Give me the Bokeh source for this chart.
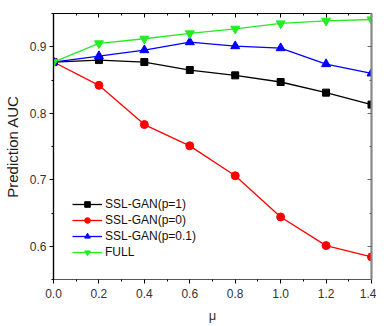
from bokeh.plotting import figure
from bokeh.models import LinearAxis, Range1d, Legend, LegendItem, CustomJSTickFormatter, FixedTicker, PrintfTickFormatter
from bokeh.embed import file_html
from bokeh.resources import INLINE

mu = [0.0, 0.2, 0.4, 0.6, 0.8, 1.0, 1.2, 1.4]
auc_p1 = [0.877, 0.880, 0.877, 0.865, 0.857, 0.847, 0.831, 0.813]
auc_p0 = [0.877, 0.842, 0.783, 0.751, 0.706, 0.644, 0.601, 0.584]
auc_p01 = [0.877, 0.886, 0.895, 0.907, 0.901, 0.898, 0.874, 0.860]
auc_full = [0.877, 0.905, 0.912, 0.920, 0.927, 0.935, 0.939, 0.941]
names = ["SSL-GAN(p=1)", "SSL-GAN(p=0)", "SSL-GAN(p=0.1)", "FULL"]
x_ticks = [0.0, 0.2, 0.4, 0.6, 0.8, 1.0, 1.2, 1.4]
x_minor = [0.1, 0.3, 0.5, 0.7, 0.9, 1.1, 1.3]
y_ticks = [0.6, 0.7, 0.8, 0.9]
y_minor = [0.55, 0.65, 0.75, 0.85, 0.95]

FONT = "Liberation Sans"

p = figure(frame_width=318, frame_height=266, output_backend="svg", toolbar_location=None,
           x_range=Range1d(0, 1.4), y_range=Range1d(0.55, 0.95),
           min_border_left=45, min_border_right=5, min_border_top=13, min_border_bottom=5)
p.grid.visible = False
p.outline_line_color = "black"
p.outline_line_width = 1.2
p.background_fill_color = "white"
p.border_fill_color = "white"

xa = p.xaxis[0]
xa.ticker = FixedTicker(ticks=x_ticks, minor_ticks=x_minor)
xa.formatter = PrintfTickFormatter(format="%.1f")
xa.axis_label = "μ"
xa.axis_label_text_font = FONT
xa.axis_label_text_font_style = "normal"
xa.axis_label_text_font_size = "13px"
xa.axis_label_text_color = "#333333"
xa.axis_label_standoff = 7
xa.major_label_text_font = FONT
xa.major_label_text_font_size = "12px"
xa.major_label_text_color = "#333333"
xa.major_label_standoff = 5
xa.major_tick_in = 0
xa.major_tick_out = 4
xa.minor_tick_in = 0
xa.minor_tick_out = 2
xa.axis_line_color = "#555555"
xa.axis_line_width = 1.2

ya = p.yaxis[0]
ya.ticker = FixedTicker(ticks=y_ticks, minor_ticks=y_minor)
ya.axis_label = "Prediction AUC"
ya.axis_label_text_font = FONT
ya.axis_label_text_font_style = "normal"
ya.axis_label_text_font_size = "15px"
ya.axis_label_text_color = "#222222"
ya.axis_label_standoff = 6
ya.major_label_text_font = FONT
ya.major_label_text_font_size = "12px"
ya.major_label_text_color = "#333333"
ya.major_label_standoff = 3
ya.major_tick_in = 0
ya.major_tick_out = 4
ya.minor_tick_in = 0
ya.minor_tick_out = 2
ya.axis_line_color = "black"
ya.axis_line_width = 1.2

empty = CustomJSTickFormatter(code="return ''")
top = LinearAxis(ticker=FixedTicker(ticks=x_ticks, minor_ticks=x_minor),
                 formatter=empty, major_tick_in=4, major_tick_out=0, minor_tick_in=2, minor_tick_out=0,
                 major_label_standoff=0, major_label_text_font_size="0px",
                 axis_line_color="black", axis_line_width=1.2)
right = LinearAxis(ticker=FixedTicker(ticks=y_ticks, minor_ticks=y_minor),
                   formatter=empty, major_tick_in=4, major_tick_out=0, minor_tick_in=2, minor_tick_out=0,
                   major_label_standoff=0, major_label_text_font_size="0px",
                   axis_line_color="#888888", axis_line_width=2,
                   major_tick_line_color="#666666", minor_tick_line_color="#666666")
p.add_layout(top, "above")
p.add_layout(right, "right")

items = []
r = p.line(mu, auc_p1, line_color="black", line_width=1.3)
m = p.scatter(mu, auc_p1, marker="square", size=7, color="black")
items.append(LegendItem(label=names[0], renderers=[r, m]))
r = p.line(mu, auc_p0, line_color="#ff0000", line_width=1.3)
m = p.scatter(mu, auc_p0, marker="circle", size=8, color="#ff0000")
items.append(LegendItem(label=names[1], renderers=[r, m]))
r = p.line(mu, auc_p01, line_color="#0000ff", line_width=1.3)
m = p.scatter(mu, auc_p01, marker="triangle", size=9, color="#0000ff")
items.append(LegendItem(label=names[2], renderers=[r, m]))
r = p.line(mu, auc_full, line_color="#22ee22", line_width=1.3)
m = p.scatter(mu, auc_full, marker="inverted_triangle", size=9, color="#22ee22")
items.append(LegendItem(label=names[3], renderers=[r, m]))

legend = Legend(items=items, location=(19, 20), border_line_color=None,
                background_fill_alpha=0, label_text_font=FONT, label_text_font_size="12px",
                label_text_color="#111111", glyph_width=30, glyph_height=14, label_height=14,
                spacing=2, padding=0, margin=0, label_standoff=3)
p.add_layout(legend, "center")

open("out.html", "w").write(file_html(p, INLINE))
